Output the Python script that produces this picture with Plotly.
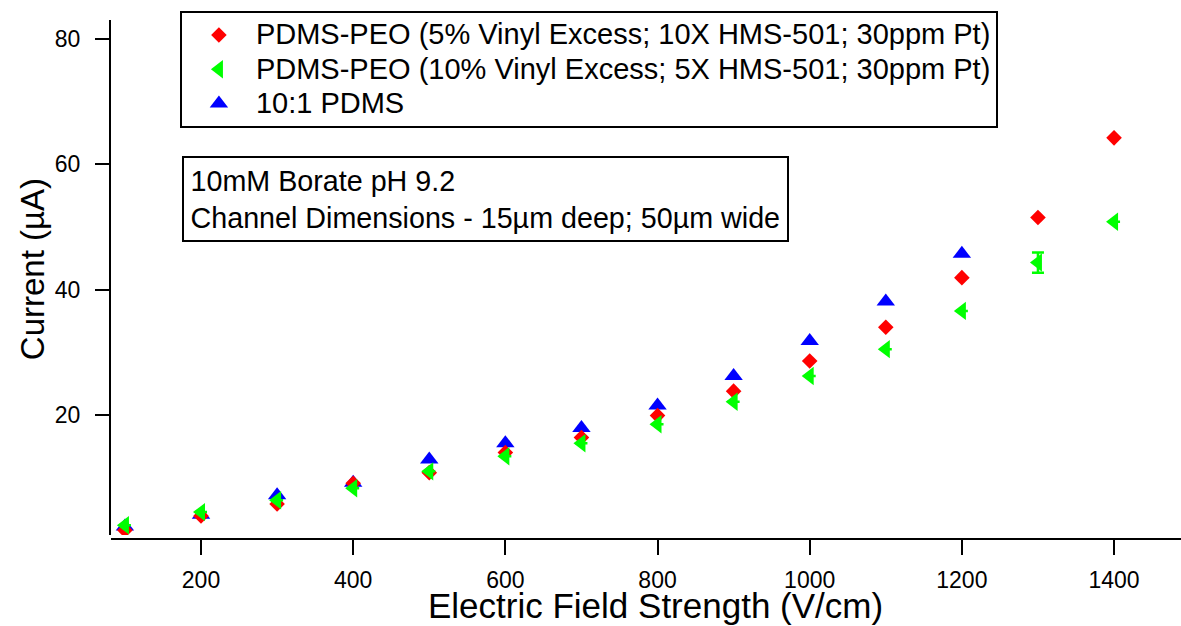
import plotly.graph_objects as go

field = [100, 200, 300, 400, 500, 600, 700, 800, 900, 1000, 1100, 1200, 1300, 1400]
red_vals = [1.6, 3.9, 5.8, 9.1, 10.8, 14.0, 16.4, 19.9, 23.8, 28.6, 34.0, 41.9, 51.5, 64.2]
green_vals = [2.4, 4.5, 6.4, 8.3, 11.0, 13.4, 15.5, 18.5, 22.1, 26.2, 30.5, 36.6, 44.3, 50.8]
green_err = [None, None, None, None, None, None, None, None, None, None, None, None, 1.6, None]
blue_field = [100, 200, 300, 400, 500, 600, 700, 800, 900, 1000, 1100, 1200]
blue_vals = [2.2, 4.1, 7.2, 9.2, 12.9, 15.5, 17.9, 21.5, 26.2, 31.8, 38.1, 45.7]

names = [
    "PDMS-PEO (5% Vinyl Excess; 10X HMS-501; 30ppm Pt)",
    "PDMS-PEO (10% Vinyl Excess; 5X HMS-501; 30ppm Pt)",
    "10:1 PDMS",
]
note_lines = ["10mM Borate pH 9.2", "Channel Dimensions - 15µm deep; 50µm wide"]
x_title = "Electric Field Strength (V/cm)"
y_title = "Current (µA)"

FONT = "Liberation Sans, Arial, sans-serif"


def big(s):
    return '<span style="font-size:29px">' + s + "</span>"


fig = go.Figure()
fig.add_trace(go.Scatter(
    x=blue_field, y=blue_vals, mode="markers", name=big(names[2]), legendrank=3,
    marker=dict(symbol="triangle-up", size=16, color="#0000FF"),
))
fig.add_trace(go.Scatter(
    x=field, y=red_vals, mode="markers", name=big(names[0]), legendrank=1,
    marker=dict(symbol="diamond", size=12, color="#FF0000"),
))
fig.add_trace(go.Scatter(
    x=field, y=green_vals, mode="markers", name=big(names[1]), legendrank=2,
    marker=dict(symbol="triangle-left", size=16, color="#00FF00"),
    error_y=dict(type="data", array=green_err, color="#00FF00", thickness=2.5, width=6),
))

fig.update_layout(
    width=1181, height=626,
    margin=dict(l=111, r=0, t=20, b=87),
    paper_bgcolor="white", plot_bgcolor="white",
    font=dict(family=FONT, color="black", size=23),
    showlegend=True,
    legend=dict(
        x=0.0644, y=1.0175, xanchor="left", yanchor="top",
        bordercolor="black", borderwidth=2, bgcolor="white",
        font=dict(size=24, family=FONT), tracegroupgap=0, itemwidth=64,
    ),
    xaxis=dict(
        range=[81.7, 1488], anchor="free", position=0,
        tickvals=[200, 400, 600, 800, 1000, 1200, 1400],
        showgrid=False, zeroline=False, showline=True, linecolor="black", linewidth=2,
        ticks="outside", ticklen=15, tickwidth=2, tickcolor="black",
        tickfont=dict(size=23), ticklabelstandoff=5,
    ),
    yaxis=dict(
        range=[0.85, 83.0], domain=[0.0077, 1],
        tickvals=[20, 40, 60, 80],
        showgrid=False, zeroline=False, showline=True, linecolor="black", linewidth=2,
        ticks="outside", ticklen=14, tickwidth=2, tickcolor="black",
        tickfont=dict(size=23), ticklabelstandoff=10,
    ),
    annotations=[
        dict(text=y_title, textangle=-90, xref="paper", yref="paper",
             x=-0.0738, y=0.52, xanchor="center", yanchor="middle",
             showarrow=False, font=dict(size=33)),
        dict(text=x_title, xref="paper", yref="paper",
             x=0.509, y=-0.129, xanchor="center", yanchor="middle",
             showarrow=False, font=dict(size=35)),
        dict(text="<br>".join(note_lines), xref="paper", yref="paper",
             x=0.0663, y=0.737, xanchor="left", yanchor="top", align="left",
             showarrow=False, font=dict(size=28.7), bordercolor="black", borderwidth=2,
             borderpad=6.5, bgcolor="white"),
    ],
)

fig.write_html("out.html")
